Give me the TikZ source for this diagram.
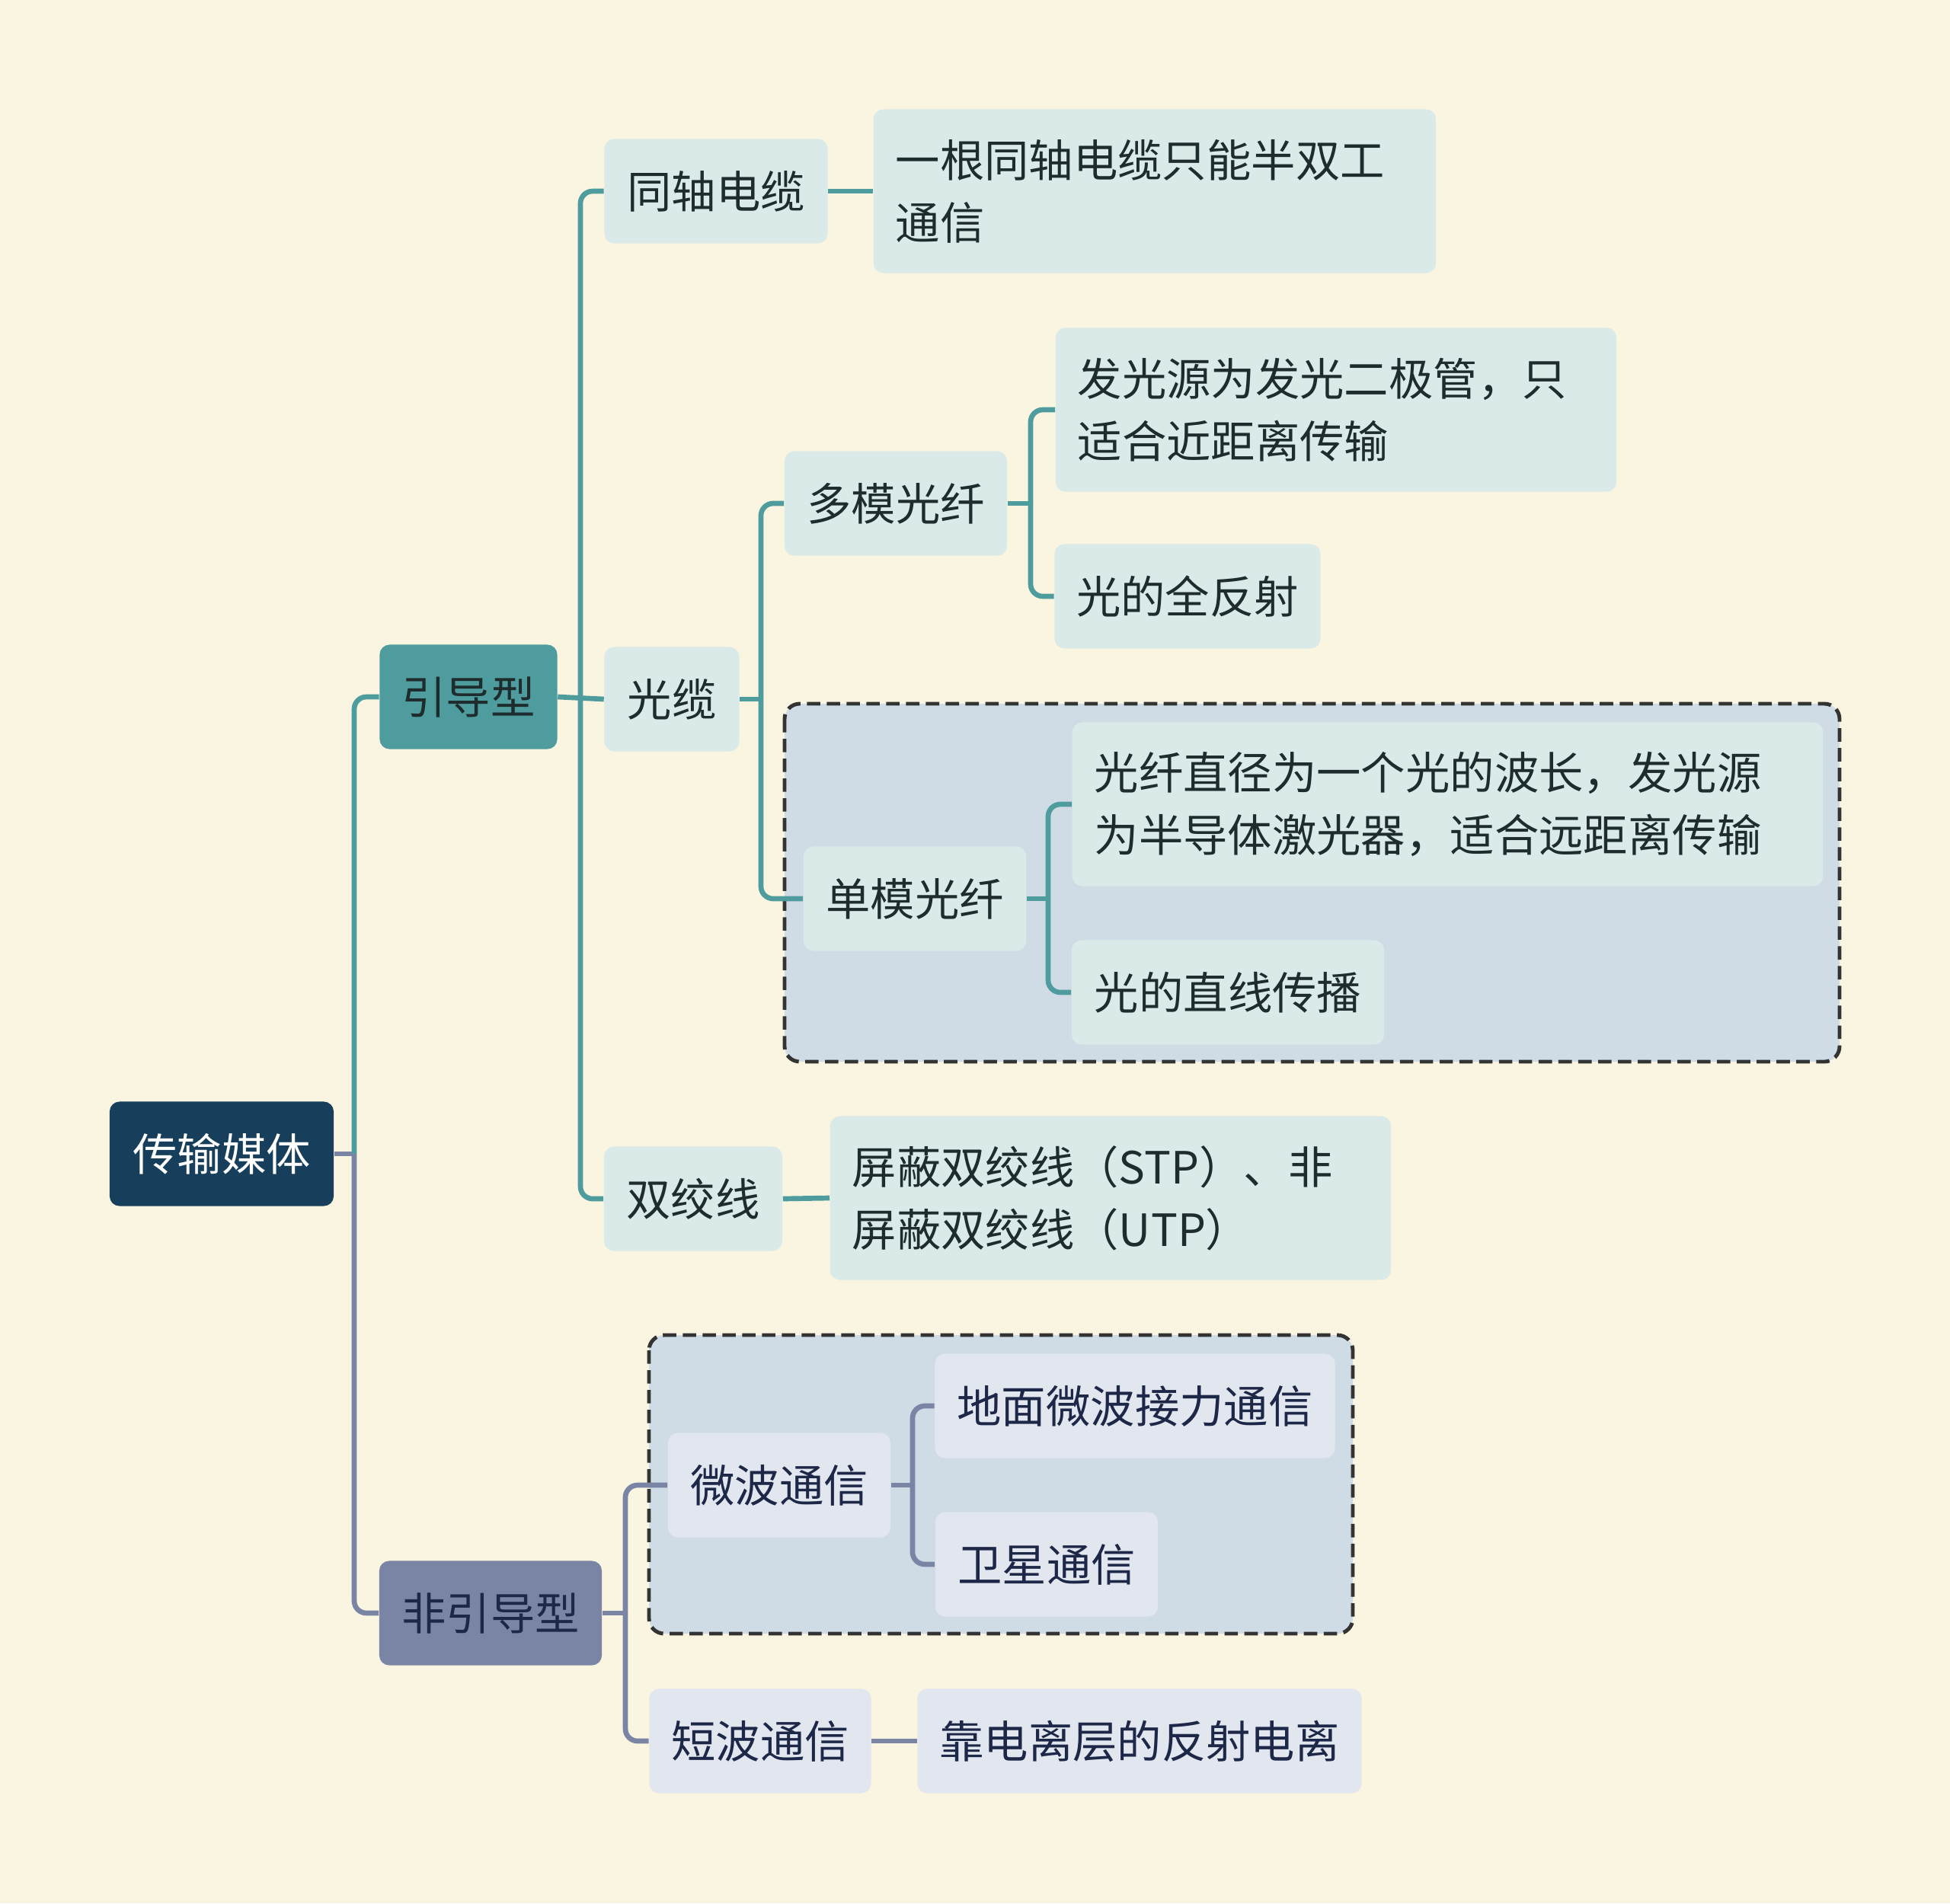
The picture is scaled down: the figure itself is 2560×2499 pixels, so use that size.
\documentclass[tikz,border=0pt]{standalone}
\usepackage{fontspec}
\usepackage{tikz}
\usetikzlibrary{positioning,calc}
\newfontfamily\cjk{Noto Sans CJK SC}
\definecolor{bgcream}{HTML}{FAF5E0}
\definecolor{rootblue}{HTML}{173E5A}
\definecolor{tealmain}{HTML}{4E9C9D}
\definecolor{tealtxt}{HTML}{1E2C2D}
\definecolor{lightteal}{HTML}{DAEAE9}
\definecolor{boxblue}{HTML}{CFDCE5}
\definecolor{slate}{HTML}{7A84A4}
\definecolor{lightslate}{HTML}{E2E6EF}
\definecolor{navytxt}{HTML}{1D2747}
\definecolor{dashgray}{HTML}{333333}
\tikzset{
  base/.style={rounded corners=0.13cm, inner sep=0pt, minimum height=1.37cm,
      font=\cjk\fontsize{16.6pt}{23.3pt}\selectfont},
  rootn/.style={base, fill=rootblue, text=white},
  tpart/.style={base, fill=tealmain, text=tealtxt},
  spart/.style={base, fill=slate, text=navytxt},
  tleaf/.style={base, fill=lightteal, text=tealtxt},
  sleaf/.style={base, fill=lightslate, text=navytxt},
  tdesc/.style={tleaf, anchor=west, align=left, inner xsep=0.29cm, minimum height=2.15cm},
  tln/.style={draw=tealmain, line width=1.9pt, rounded corners=0.16cm},
  sln/.style={draw=slate, line width=1.9pt, rounded corners=0.16cm},
  grp/.style={draw=dashgray, fill=boxblue, line width=1.4pt, dash pattern=on 5pt off 2.4pt,
      rounded corners=0.2cm},
}
\begin{document}
\begin{tikzpicture}[x=0.01cm,y=-0.01cm]
\useasboundingbox (0,0) rectangle (2560,2499);
\fill[bgcream] (0,0) rectangle (2560,2499);
%---- the dashed groups
\draw[grp] (1030,924) rectangle (2415,1394);
\draw[grp] (852,1753) rectangle (1776,2145);
%---- the nodes
\node[rootn, minimum width=2.94cm] (root) at (291,1515) {传输媒体};
\node[tpart, minimum width=2.33cm] (yd) at (615,915) {引导型};
\node[spart, minimum width=2.92cm] (fyd) at (644,2118) {非引导型};
\node[tleaf, minimum width=2.93cm] (tz) at (940,251) {同轴电缆};
\node[tdesc, text width=6.80cm] (tzd) at (1146,251) {一根同轴电缆只能半双工\\通信};
\node[tleaf, minimum width=1.77cm] (gl) at (882,918) {光缆};
\node[tleaf, minimum width=2.34cm] (sjx) at (910,1574) {双绞线};
\node[tdesc, text width=6.78cm] (sjxd) at (1089,1573) {屏蔽双绞线（STP）、非\\屏蔽双绞线（UTP）};
\node[tleaf, minimum width=2.92cm] (dm) at (1176,661) {多模光纤};
\node[tdesc, text width=6.78cm] (dmd) at (1385,538) {发光源为发光二极管，只\\适合近距离传输};
\node[tleaf, minimum width=3.49cm] (dmq) at (1559,783) {光的全反射};
\node[tleaf, minimum width=2.92cm] (dan) at (1201,1180) {单模光纤};
\node[tdesc, text width=9.27cm] (dand) at (1407,1056) {光纤直径为一个光的波长，发光源\\为半导体激光器，适合远距离传输};
\node[tleaf, minimum width=4.10cm] (danz) at (1612,1303) {光的直线传播};
\node[sleaf, minimum width=2.92cm] (wb) at (1023,1950) {微波通信};
\node[sleaf, minimum width=5.25cm] (wbd) at (1490,1846) {地面微波接力通信};
\node[sleaf, minimum width=2.92cm] (wbw) at (1374,2054) {卫星通信};
\node[sleaf, minimum width=2.91cm] (db) at (998,2286) {短波通信};
\node[sleaf, minimum width=5.83cm] (dbd) at (1496,2286) {靠电离层的反射电离};
%---- the branches
\coordinate (j0) at (465,1515);
\coordinate (j1) at (762,915);
\coordinate (j2) at (999,918);
\coordinate (j3) at (1353,661);
\coordinate (j4) at (1376,1180);
\coordinate (j5) at (821,2118);
\coordinate (j6) at (1198,1950);
\draw[sln] (root.east) -- (j0);
\draw[tln] (j0) |- (yd.west);
\draw[sln] (j0) |- (fyd.west);
\draw[tln] (yd.east) -- (gl.west);
\draw[tln] (j1) |- (tz.west);
\draw[tln] (j1) |- (sjx.west);
\draw[tln] (tz.east) -- (tzd.west);
\draw[tln] (sjx.east) -- (sjxd.west);
\draw[tln] (gl.east) -- (j2);
\draw[tln] (j2) |- (dm.west);
\draw[tln] (j2) |- (dan.west);
\draw[tln] (dm.east) -- (j3);
\draw[tln] (j3) |- (dmd.west);
\draw[tln] (j3) |- (dmq.west);
\draw[tln] (dan.east) -- (j4);
\draw[tln] (j4) |- (dand.west);
\draw[tln] (j4) |- (danz.west);
\draw[sln] (fyd.east) -- (j5);
\draw[sln] (j5) |- (wb.west);
\draw[sln] (j5) |- (db.west);
\draw[sln] (wb.east) -- (j6);
\draw[sln] (j6) |- (wbd.west);
\draw[sln] (j6) |- (wbw.west);
\draw[sln] (db.east) -- (dbd.west);
\end{tikzpicture}
\end{document}
